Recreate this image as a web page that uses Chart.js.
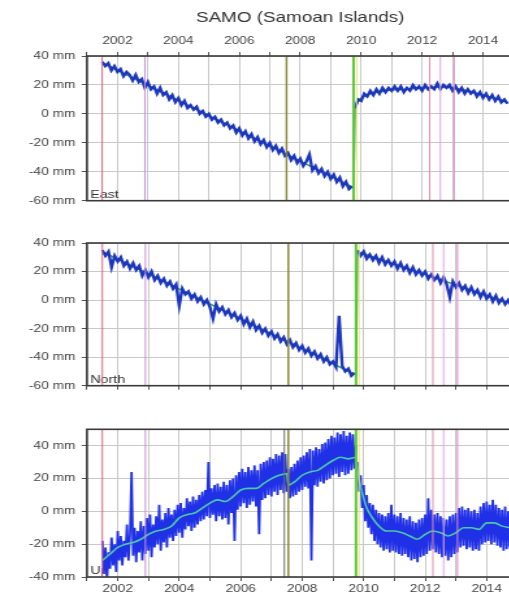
<!DOCTYPE html>
<html>
<head>
<meta charset="UTF-8">
<title>SAMO (Samoan Islands)</title>
<script src="https://cdn.jsdelivr.net/npm/chart.js@4.4.1/dist/chart.umd.min.js"></script>
<style>
  body { margin: 0; background: #fff; overflow: hidden; width: 509px; height: 598px; position: relative; }
  /* the source picture is stretched sideways, so the canvases are too */
  canvas { position: absolute; left: 0; transform: scaleX(1.3); transform-origin: 0 0; }
</style>
</head>
<body>
<canvas id="east" width="400" height="212" style="top:0px;width:400px;height:212px"></canvas>
<canvas id="north" width="400" height="167" style="top:230px;width:400px;height:167px"></canvas>
<canvas id="up" width="400" height="180" style="top:418px;width:400px;height:180px"></canvas>
<script>
// axes
const tickYears = [2001, 2002, 2003, 2004, 2005, 2006, 2007, 2008, 2009, 2010, 2011, 2012, 2013, 2014, 2015];
const labelYears = [2002, 2004, 2006, 2008, 2010, 2012, 2014];
const ticksEN = [-60, -40, -20, 0, 20, 40];
const ticksUp = [-40, -20, 0, 20, 40];

// events (equipment changes / earthquakes)
const eventYears = [2001.5, 2002.9, 2007.55, 2009.75, 2009.85, 2012.25, 2012.6, 2013.05];
const upExtraEvents = [2007.42];

// East, mm, sampled every 0.1 yr from 2001.5 and again from 2009.8
const eastPre = [36, 33, 35, 30, 33, 29, 31, 26, 29, 27,
  23, 27, 22, 24, 18, 22, 17, 19, 14, 18,
  13, 15, 10, 13, 8, 11, 6, 9, 4, 6,
  3, 5, 0, 2, -2, 0, -4, -2, -6, -4,
  -8, -6, -10, -8, -13, -10, -15, -12, -17, -14,
  -19, -16, -21, -18, -23, -20, -25, -22, -27, -24,
  -29, -27, -32, -29, -34, -31, -36, -33, -28, -39,
  -36, -41, -38, -43, -40, -45, -42, -47, -44, -50,
  -47, -52, -50];
const eastPost = [4, 10, 9, 14, 12, 16, 13, 17, 14, 18,
  15, 18, 16, 19, 16, 19, 15, 18, 16, 20,
  17, 19, 16, 20, 17, 19, 17, 21, 17, 20,
  18, 20, 16, 19, 15, 18, 14, 17, 14, 16,
  12, 15, 11, 14, 10, 13, 9, 12, 8, 10,
  7];
const eastModelT = [2001.5, 2009.75, 2009.8, 2009.9, 2010, 2010.25, 2010.5, 2011, 2011.5, 2012, 2012.5, 2013, 2013.5, 2014, 2014.5, 2014.8];
const eastModel = [35.5, -51, 5, 9, 11, 13.5, 15, 16.5, 17, 18, 18.5, 18, 16, 13, 10, 8];

// North, same sampling
const northPre = [35, 31, 34, 23, 31, 27, 30, 24, 27, 22,
  26, 21, 24, 17, 21, 16, 20, 14, 17, 12,
  15, 10, 13, 8, 11, -4, 8, 4, 6, 1,
  4, -1, 2, -3, 0, -5, -13, -3, -8, -5,
  -10, -7, -12, -9, -14, -11, -17, -13, -19, -15,
  -21, -18, -23, -20, -25, -22, -27, -24, -29, -26,
  -31, -28, -33, -30, -35, -32, -37, -34, -39, -36,
  -41, -38, -43, -40, -45, -43, -47, -11, -46, -50,
  -48, -53, -51];
const northPost = [35, 31, 34, 29, 32, 28, 31, 26, 30, 25,
  28, 24, 27, 22, 26, 21, 24, 19, 23, 18,
  21, 17, 20, 15, 18, 14, 17, 12, 16, 11,
  2, 13, 9, 12, 7, 10, 5, 9, 4, 7,
  2, 6, 1, 4, -1, 3, -2, 1, -3, 0,
  -4];
const northModelT = [2001.5, 2009.75, 2009.8, 2014.8];
const northModel = [34, -52.5, 34, -2.5];

// Up, mm, sampled every 0.05 yr from 2001.5 and again from 2009.8
const upPre = [-18, -38, -22, -42, -25, -35, -16, -33, -20, -37,
  -12, -30, -15, -33, -18, -28, -8, -30, -14, 24,
  -27, -10, -31, -12, -25, -6, -30, -9, -26, -4,
  -24, -2, -28, -8, -22, -3, -20, 4, -24, -5,
  -19, -1, -22, 2, -16, -2, -18, 1, -15, 4,
  -13, 5, -16, 2, -11, 8, -9, 6, -12, 9,
  -10, 7, -8, 10, -6, 12, -5, 13, -3, 30,
  -4, 14, -2, 16, -6, 17, -3, 15, -5, 18,
  -4, 16, -8, 19, -1, 20, -18, 22, 1, 24,
  3, 26, 5, 24, 2, 27, 4, 25, 6, 28,
  3, 25, -14, 29, 7, 30, 8, 31, 10, 33,
  9, 32, 12, 35, 10, 34, 13, 36, 11, 35,
  12, 26, 8, 27, 9,
  29, 10, 31, 12, 33, 13, 34, 15, 36, 14,
  38, -30, 37, 16, 39, 15, 38, 18, 41, 17,
  42, 19, 44, 20, 46, 22, 45, 23, 48, 21,
  47, 24, 49, 22, 46, 23, 48, 25, 47, 26,
  40];
const upPost = [30, 12, 22, 2, 16, -6, 10, -10, 5, -14,
  4, -18, 1, -20, -1, -22, -2, -24, -3, -23,
  -1, -25, 4, -24, -2, -25, -3, -26, -1, -27,
  -4, -26, -5, -28, -3, -30, -6, -29, -7, -31,
  -5, -28, -4, -27, -2, -26, 8, -24, 1, -23,
  -2, -25, -1, -26, -3, -28, -4, -27, -5, -30,
  -3, -28, -2, -26, -1, -25, 2, -22, 3, -21,
  1, -23, 2, -22, 0, -24, 1, -23, -1, -24,
  3, -20, 5, -19, 6, -18, 4, -20, 7, -19,
  4, -21, 2, -22, 1, -24, 3, -23, 0, -22,
  2];
const upModelT = [2001.5, 2001.75, 2002, 2002.25, 2002.5, 2002.75, 2003, 2003.25, 2003.5, 2003.75,
  2004, 2004.25, 2004.5, 2004.75, 2005, 2005.25, 2005.5, 2005.75, 2006, 2006.25,
  2006.5, 2006.75, 2007, 2007.25, 2007.5, 2007.55, 2007.75, 2008, 2008.25, 2008.5,
  2008.75, 2009, 2009.25, 2009.5, 2009.75, 2009.8, 2009.9, 2010, 2010.1, 2010.25,
  2010.5, 2010.75, 2011, 2011.25, 2011.5, 2011.75, 2012, 2012.25, 2012.5, 2012.75,
  2013, 2013.25, 2013.5, 2013.75, 2014, 2014.25, 2014.5, 2014.75];
const upModel = [-30, -26, -22, -20, -19, -17, -14, -12, -11, -9,
  -4, -2, -1, 2, 5, 7, 6, 9, 13, 14,
  14, 17, 20, 22, 23, 16, 18, 22, 24, 25,
  28, 31, 33, 32, 33, 25, 15, 8, 2, -3,
  -9, -12, -12, -13, -15, -17, -14, -12, -13, -15,
  -13, -10, -10, -11, -7, -7, -9, -10];

const FONT = '"Liberation Sans", Arial, Helvetica, sans-serif';
const eventColors = ['#e0667e', '#c98fd9', '#8a8a3c', '#5cc83a', '#ece27a', '#e58aa6', '#e0a8dc', '#dd86c6'];
const eventWidths = [1, 1, 1.5, 2, 1, 1, 1, 1];

function series(t0, step, vals) {
  return vals.map((v, i) => ({ x: +(t0 + i * step).toFixed(2), y: v }));
}
function pairs(ts, vs) {
  return ts.map((t, i) => ({ x: t, y: vs[i] }));
}

// panel label, event lines and frame
function decor(label, extra) {
  return {
    id: 'decor',
    beforeDatasetsDraw(chart) {
      const { ctx, chartArea: a } = chart;
      ctx.save();
      ctx.font = '11px ' + FONT;
      ctx.fillStyle = '#333';
      ctx.textBaseline = 'bottom';
      ctx.fillText(label, a.left + 2.5, a.bottom - 0.5);
      ctx.restore();
    },
    afterDatasetsDraw(chart) {
      const { ctx, chartArea: a, scales: { x } } = chart;
      ctx.save();
      const line = (yr, color, w) => {
        const px = x.getPixelForValue(yr);
        ctx.strokeStyle = color;
        ctx.lineWidth = w;
        ctx.beginPath();
        ctx.moveTo(px, a.top);
        ctx.lineTo(px, a.bottom);
        ctx.stroke();
      };
      extra.forEach(yr => line(yr, '#6e6e6e', 1));
      eventYears.forEach((yr, i) => line(yr, eventColors[i], eventWidths[i]));
      ctx.strokeStyle = '#3a3a3a';
      ctx.lineWidth = 1.6;
      ctx.strokeRect(a.left, a.top, a.right - a.left, a.bottom - a.top);
      ctx.restore();
    }
  };
}

function panel(id, o) {
  return new Chart(document.getElementById(id), {
    type: 'line',
    data: { datasets: o.datasets },
    options: {
      responsive: false,
      animation: false,
      events: [],
      layout: { padding: o.padding },
      elements: { point: { radius: 0 }, line: { borderWidth: 1.2, tension: 0 } },
      plugins: {
        legend: { display: false },
        tooltip: { enabled: false },
        title: o.title || { display: false }
      },
      scales: {
        x: {
          type: 'linear',
          position: o.xPos,
          min: 2001,
          max: 2015,
          afterBuildTicks: s => { s.ticks = tickYears.map(v => ({ value: v })); },
          afterFit: s => { s.height = o.xHeight; },
          grid: { color: '#c8c8c8', tickLength: 4, tickColor: '#555' },
          border: { display: false },
          ticks: {
            display: o.xLabels,
            padding: o.xPad,
            autoSkip: false,
            maxRotation: 0,
            color: '#444',
            font: { family: FONT, size: 10.5 },
            callback: v => labelYears.includes(v) ? String(v) : ''
          }
        },
        y: {
          min: o.yMin,
          max: o.yMax,
          afterBuildTicks: s => { s.ticks = o.yTicks.map(v => ({ value: v })); },
          afterFit: s => { s.width = 66.9; },
          grid: { color: '#c8c8c8', tickLength: 4, tickColor: '#555' },
          border: { display: false },
          ticks: {
            padding: 5,
            color: '#444',
            font: { family: FONT, size: 10.5 },
            callback: v => v + ' mm'
          }
        }
      }
    },
    plugins: [decor(o.label, o.extraEvents || [])]
  });
}

const enData = '#1c36bc', enModel = '#2f9e5a', upData = '#1f30e6';

panel('east', {
  label: 'East', xPos: 'top', xHeight: 30.5, xLabels: true, xPad: 5,
  yMin: -60, yMax: 40, yTicks: ticksEN,
  padding: { top: 0, bottom: 7, left: 0, right: 2 },
  title: {
    display: true, text: 'SAMO (Samoan Islands)', fullSize: false, color: '#333',
    font: { family: FONT, size: 14.5, weight: 'normal', lineHeight: 1 },
    padding: { top: 11, bottom: 0 }
  },
  datasets: [
    { data: series(2001.5, 0.1, eastPre), borderColor: enData, borderWidth: 2.4 },
    { data: series(2009.8, 0.1, eastPost), borderColor: enData, borderWidth: 2.4 },
    { data: pairs(eastModelT, eastModel), borderColor: enModel, borderWidth: 1.5 }
  ]
});

panel('north', {
  label: 'North', xPos: 'bottom', xHeight: 0, xLabels: false, xPad: 0,
  yMin: -60, yMax: 40, yTicks: ticksEN,
  padding: { top: 13, bottom: 7, left: 0, right: 2 },
  datasets: [
    { data: series(2001.5, 0.1, northPre), borderColor: enData, borderWidth: 2.4 },
    { data: series(2009.8, 0.1, northPost), borderColor: enData, borderWidth: 2.4 },
    { data: pairs(northModelT, northModel), borderColor: enModel, borderWidth: 1.5 }
  ]
});

panel('up', {
  label: 'Up', xPos: 'bottom', xHeight: 21, xLabels: true, xPad: 2,
  yMin: -40, yMax: 50, yTicks: ticksUp, extraEvents: upExtraEvents,
  padding: { top: 10, bottom: 0, left: 0, right: 2 },
  datasets: [
    { data: pairs(upModelT, upModel), borderColor: '#4cc8a8', borderWidth: 1.6, cubicInterpolationMode: 'monotone' },
    { data: series(2001.5, 0.05, upPre), borderColor: upData, borderWidth: 1.8 },
    { data: series(2009.8, 0.05, upPost), borderColor: upData, borderWidth: 1.8 }
  ]
});
</script>
</body>
</html>
